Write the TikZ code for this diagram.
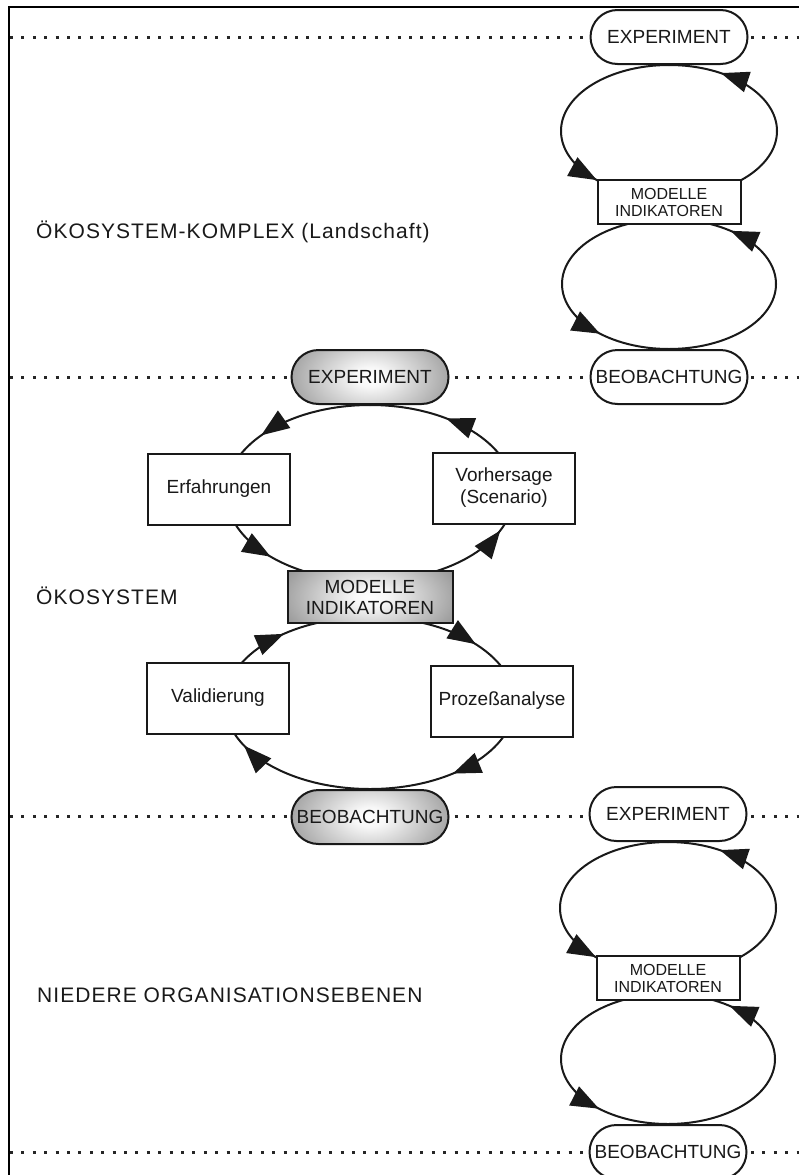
\documentclass[tikz,border=0pt]{standalone}
\usepackage{fontspec}
\setmainfont{Liberation Sans}
\newfontfamily\trackedfont[LetterSpace=5]{Liberation Sans}
\usetikzlibrary{arrows.meta,decorations.markings,shapes.misc}
\pgfdeclarelayer{background}
\pgfsetlayers{background,main}
% light centre fading to dark grey towards the rim
\pgfdeclareradialshading{nodeglow}{\pgfpoint{0bp}{0bp}}{color(0bp)=(white); color(4bp)=(white!97!black); color(35bp)=(black!66); color(50bp)=(black!66)}

\tikzset{
  flowtip/.tip={Triangle[length=28pt,width=21pt]},
  box/.style={draw=black!90, line width=2pt, fill=white, text=black!90, align=center, inner sep=0pt},
  capsule/.style={box, rounded rectangle, minimum width=157pt, minimum height=54pt, font=\fontsize{19pt}{21pt}\selectfont},
  sidebox/.style={box, rectangle, minimum width=142pt, minimum height=71pt, font=\fontsize{19pt}{22pt}\selectfont},
  smallmod/.style={box, rectangle, minimum width=143pt, minimum height=44pt, font=\fontsize{16pt}{17pt}\selectfont},
  bigmod/.style={box, rectangle, minimum width=165pt, minimum height=52pt, font=\fontsize{19pt}{21pt}\selectfont},
  glowing/.style 2 args={path picture={\shade[shading=nodeglow] (path picture bounding box.center) ellipse[x radius=#1, y radius=#2];}},
  level/.style={anchor=base west, inner sep=0pt, text=black!90, font=\trackedfont\fontsize{21pt}{23pt}\selectfont},
  sep/.style={line width=3pt, dash pattern=on 3pt off 8.4pt, black!85},
  flow/.style={line width=2pt, draw=black!90},
  fwd/.style 2 args={postaction={decorate, decoration={markings,
      mark=at position #1 with {\arrow{flowtip}},
      mark=at position #2 with {\arrow{flowtip}}}}},
  bwd/.style 2 args={postaction={decorate, decoration={markings,
      mark=at position #1 with {\arrowreversed{flowtip}},
      mark=at position #2 with {\arrowreversed{flowtip}}}}},
  fwdone/.style={postaction={decorate, decoration={markings,
      mark=at position #1 with {\arrow{flowtip}}}}},
  bwdone/.style={postaction={decorate, decoration={markings,
      mark=at position #1 with {\arrowreversed{flowtip}}}}},
}

\begin{document}
\begin{tikzpicture}[x=1pt,y=1pt]
\useasboundingbox (0,0) rectangle (799,-1175);

% level names
\node[level] (lvl1) at (36,-238) {ÖKOSYSTEM-KOMPLEX (Landschaft)};
\node[level] (lvl2) at (36,-604) {ÖKOSYSTEM};
\node[level] (lvl3) at (37,-1002) {NIEDERE ORGANISATIONSEBENEN};

% upper level cycle
\node[capsule] (exp1) at (669,-37) {EXPERIMENT};
\node[smallmod] (mod1) at (669,-202) {MODELLE\\INDIKATOREN};
\node[capsule] (beo1) at (669,-377) {BEOBACHTUNG};

% ecosystem cycle
\node[capsule, glowing={100pt}{62pt}] (expM) at (370,-377) {EXPERIMENT};
\node[sidebox] (erf) at (219,-489) {Erfahrungen};
\node[sidebox] (vor) at (504,-488) {Vorhersage\\(Scenario)};
\node[bigmod, glowing={105pt}{58pt}] (modM) at (370,-597) {MODELLE\\INDIKATOREN};
\node[sidebox] (val) at (218,-698) {Validierung};
\node[sidebox] (pro) at (502,-701) {Prozeßanalyse};
\node[capsule, glowing={100pt}{62pt}] (beoM) at (370,-817) {BEOBACHTUNG};

% lower level cycle
\node[capsule] (exp3) at (668,-814) {EXPERIMENT};
\node[smallmod] (mod3) at (668,-978) {MODELLE\\INDIKATOREN};
\node[capsule] (beo3) at (668,-1152) {BEOBACHTUNG};

\begin{pgfonlayer}{background}
  \fill[white] (0,0) rectangle (799,-1175);

  % frame
  \draw[line width=2pt] (9,-1180) -- (9,-7) -- (805,-7);

  % level separators
  \foreach \y in {37,377,816,1152}
    \draw[sep] (10,-\y) -- (799,-\y);

  % upper level: exp1 -> mod1 (left), mod1 -> exp1 (right)
  \draw[flow, fwdone=0.73]
    (exp1.south) arc[start angle=90, end angle=270, x radius=108pt, y radius=66pt];
  \draw[flow, bwdone=0.19]
    (exp1.south) arc[start angle=90, end angle=-90, x radius=108pt, y radius=66pt];
  % mod1 -> beo1 (left), beo1 -> mod1 (right)
  \draw[flow, bwdone=0.26]
    (beo1.north) arc[start angle=270, end angle=90, x radius=107pt, y radius=65pt];
  \draw[flow, fwdone=0.77]
    (beo1.north) arc[start angle=-90, end angle=90, x radius=107pt, y radius=65pt];

  % ecosystem: expM -> erf -> modM, modM -> vor -> expM
  \draw[flow, fwd={0.31}{0.72}]
    (expM.south) arc[start angle=90, end angle=270, x radius=144pt, y radius=88pt];
  \draw[flow, bwd={0.21}{0.61}]
    (expM.south) arc[start angle=90, end angle=-90, x radius=144pt, y radius=88pt];
  % beoM -> val -> modM, modM -> pro -> beoM
  \draw[flow, fwd={0.37}{0.76}]
    (beoM.north) arc[start angle=270, end angle=90, x radius=145pt, y radius=86pt];
  \draw[flow, bwd={0.23}{0.70}]
    (beoM.north) arc[start angle=-90, end angle=90, x radius=145pt, y radius=86pt];

  % lower level: exp3 -> mod3 (left), mod3 -> exp3 (right)
  \draw[flow, fwdone=0.73]
    (exp3.south) arc[start angle=90, end angle=270, x radius=108pt, y radius=66pt];
  \draw[flow, bwdone=0.19]
    (exp3.south) arc[start angle=90, end angle=-90, x radius=108pt, y radius=66pt];
  % mod3 -> beo3 (left), beo3 -> mod3 (right)
  \draw[flow, bwdone=0.26]
    (beo3.north) arc[start angle=270, end angle=90, x radius=107pt, y radius=65pt];
  \draw[flow, fwdone=0.77]
    (beo3.north) arc[start angle=-90, end angle=90, x radius=107pt, y radius=65pt];
\end{pgfonlayer}
\end{tikzpicture}
\end{document}
